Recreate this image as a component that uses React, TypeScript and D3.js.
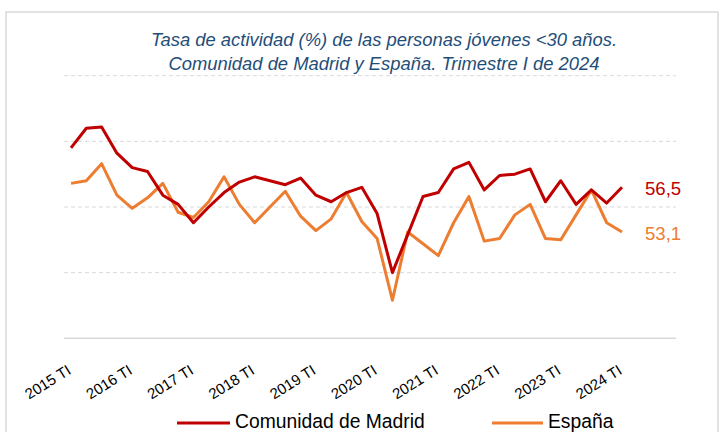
import React from "react";
import * as d3 from "d3";

const years = [2015, 2016, 2017, 2018, 2019, 2020, 2021, 2022, 2023, 2024];
const quarterNames = ["TI", "TII", "TIII", "TIV"];
const quarters: string[] = [];
years.forEach((y) => quarterNames.forEach((q) => { if (!(y === 2024 && q !== "TI")) quarters.push(`${y} ${q}`); }));

const madrid = [59.5, 61.0, 61.1, 59.1, 58.0, 57.7, 55.9, 55.2, 53.8, 55.0,
  56.1, 56.9, 57.3, 57.0, 56.7, 57.2, 55.9, 55.4, 56.1, 56.5,
  54.5, 50.0, 52.9, 55.8, 56.1, 57.9, 58.4, 56.3, 57.4, 57.5,
  57.9, 55.4, 57.0, 55.2, 56.3, 55.3, 56.5];
const espana = [56.8, 57.0, 58.3, 55.9, 54.9, 55.7, 56.8, 54.6, 54.2, 55.4,
  57.3, 55.2, 53.8, 55.0, 56.2, 54.3, 53.2, 54.1, 56.1, 53.9,
  52.6, 47.9, 53.1, 52.2, 51.3, 53.8, 55.8, 52.4, 52.6, 54.4,
  55.2, 52.6, 52.5, 54.4, 56.3, 53.8, 53.1];
const yTicks = [45, 50, 55, 60, 65];
const seriesNames = ["Comunidad de Madrid", "España"];
const titleLines = [
  "Tasa de actividad (%) de las personas jóvenes <30 años.",
  "Comunidad de Madrid y España. Trimestre I de 2024",
];

const RED = "#C00000";
const ORANGE = "#ED7D31";
const GRID = "#D9D9D9";
const FONT = "'Liberation Sans', Arial, sans-serif";

export default function App() {
  const W = 723, H = 432;
  const x = d3.scaleLinear().domain([0, quarters.length - 1]).range([71, 622]);
  const y = d3.scaleLinear().domain([45, 65]).range([338.3, 75.7]);
  const line = d3.line<number>().x((_, i) => x(i)).y((d) => y(d));
  const lastI = quarters.length - 1;
  const fmt = (v: number) => v.toFixed(1).replace(".", ",");

  return (
    <svg width={W} height={H} style={{ position: "absolute", left: 0, top: 0, background: "#fff" }}>
      <rect x={6} y={12} width={712} height={440} fill="#fff" stroke={GRID} strokeWidth={1.5} />
      {titleLines.map((t, i) => (
        <text key={i} x={384} y={46 + i * 24} textAnchor="middle" fontFamily={FONT}
          fontStyle="italic" fontSize={18.4} fill="#1F4E79">{t}</text>
      ))}
      {yTicks.map((v) => (
        <line key={v} x1={64} x2={676} y1={y(v)} y2={y(v)} stroke={GRID}
          strokeWidth={v === 45 ? 1.5 : 1} strokeDasharray={v === 45 ? undefined : "4,3"} />
      ))}
      {quarters.map((q, i) => q.endsWith(" TI") ? (
        <text key={q} transform={`translate(${x(i) + 1},373) rotate(-32)`} textAnchor="end"
          fontFamily={FONT} fontSize={15} fill="#000">{q}</text>
      ) : null)}
      <path d={line(espana) || ""} fill="none" stroke={ORANGE} strokeWidth={3} strokeLinejoin="round" />
      <path d={line(madrid) || ""} fill="none" stroke={RED} strokeWidth={3} strokeLinejoin="round" />
      <text x={645} y={195} fontFamily={FONT} fontSize={18.6} fill={RED}>{fmt(madrid[lastI])}</text>
      <text x={645} y={240} fontFamily={FONT} fontSize={18.6} fill={ORANGE}>{fmt(espana[lastI])}</text>
      <line x1={177} x2={230} y1={423} y2={423} stroke={RED} strokeWidth={3} />
      <text x={235} y={428} fontFamily={FONT} fontSize={19.3} fill="#000">{seriesNames[0]}</text>
      <line x1={492} x2={543} y1={423} y2={423} stroke={ORANGE} strokeWidth={3} />
      <text x={548} y={428} fontFamily={FONT} fontSize={19.3} fill="#000">{seriesNames[1]}</text>
    </svg>
  );
}
